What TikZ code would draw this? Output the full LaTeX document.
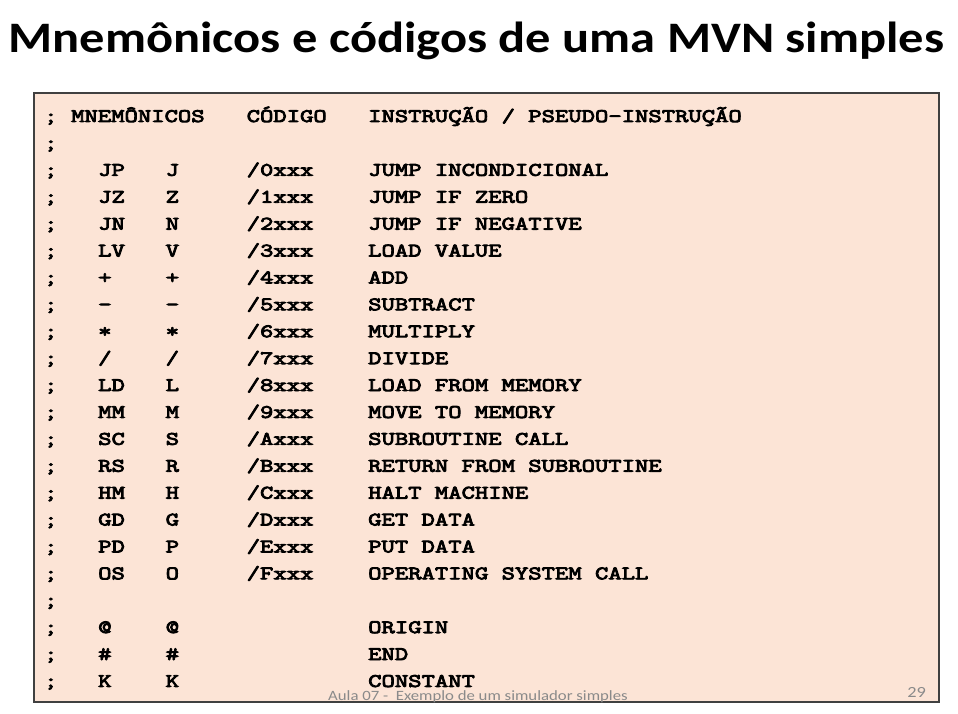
\documentclass[tikz,border=0pt]{standalone}
\usepackage{fontspec}
\setmainfont{Carlito}
\setmonofont{Latin Modern Mono}[FakeStretch=1.36,BoldFont=Latin Modern Mono,BoldFeatures={FakeBold=4.5}]
\newfontfamily\titlefont{Carlito}[FakeStretch=1.16]
\newfontfamily\footfont{Carlito}[FakeStretch=1.18]
\usetikzlibrary{positioning}

\definecolor{boxfill}{HTML}{FCE4D6}
\definecolor{boxline}{HTML}{404040}
\definecolor{footgray}{HTML}{8A8A8A}

\tikzset{
  codetext/.style={anchor=base west,inner sep=0pt,font=\ttfamily\bfseries\fontsize{19.05}{19.05}\selectfont},
  foottext/.style={inner sep=0pt,text=footgray,font=\footfont\fontsize{14.2}{14.2}\selectfont}
}

\begin{document}
\begin{tikzpicture}[x=1pt,y=-1pt]

\useasboundingbox (0,0) rectangle (958,714);

\node[anchor=base,inner sep=0pt,font=\titlefont\bfseries\fontsize{43.5}{43.5}\selectfont] (title) at (476.5,53)
   {Mnemônicos e códigos de uma MVN simples};

\draw[fill=boxfill,draw=boxline,line width=1.2pt] (34,93) rectangle (939,702);

% column starts: 44 + 13.5*col
\foreach \i in {0,...,21}{\node[codetext] (semi\i) at (44,{122+26.9*\i}) {;};}

\node[codetext] (hmn)  at (71,122)    {MNEMÔNICOS};
\node[codetext] (hcod) at (246.5,122) {CÓDIGO};
\node[codetext] (hins) at (368,122)   {INSTRUÇÃO / PSEUDO-INSTRUÇÃO};

\foreach \mn/\ch/\hx/\desc [count=\i from 2] in {
   JP/J/0/JUMP INCONDICIONAL, JZ/Z/1/JUMP IF ZERO, JN/N/2/JUMP IF NEGATIVE,
   LV/V/3/LOAD VALUE, +/+/4/ADD, -/-/5/SUBTRACT, */*/6/MULTIPLY,
   {/}/{/}/7/DIVIDE, LD/L/8/LOAD FROM MEMORY, MM/M/9/MOVE TO MEMORY,
   SC/S/A/SUBROUTINE CALL, RS/R/B/RETURN FROM SUBROUTINE, HM/H/C/HALT MACHINE,
   GD/G/D/GET DATA, PD/P/E/PUT DATA, OS/O/F/OPERATING SYSTEM CALL}{
  \node[codetext] (mn\i)   at (98,{122+26.9*\i})    {\mn};
  \node[codetext] (ch\i)   at (165.5,{122+26.9*\i}) {\ch};
  \node[codetext] (hx\i)   at (246.5,{122+26.9*\i}) {/\hx xxx};
  \node[codetext] (desc\i) at (368,{122+26.9*\i})   {\desc};
}

\foreach \mn/\desc [count=\i from 19] in {@/ORIGIN, \#/END, K/CONSTANT}{
  \node[codetext] (mn\i)   at (98,{122+26.9*\i})    {\mn};
  \node[codetext] (ch\i)   at (165.5,{122+26.9*\i}) {\mn};
  \node[codetext] (desc\i) at (368,{122+26.9*\i})   {\desc};
}

\node[foottext,anchor=base west] (foot) at (328,700) {Aula 07 -\ \ Exemplo de um simulador simples};
\node[foottext,anchor=base east,font=\footfont\fontsize{15.5}{15.5}\selectfont] (page) at (926,697) {29};

\end{tikzpicture}
\end{document}
